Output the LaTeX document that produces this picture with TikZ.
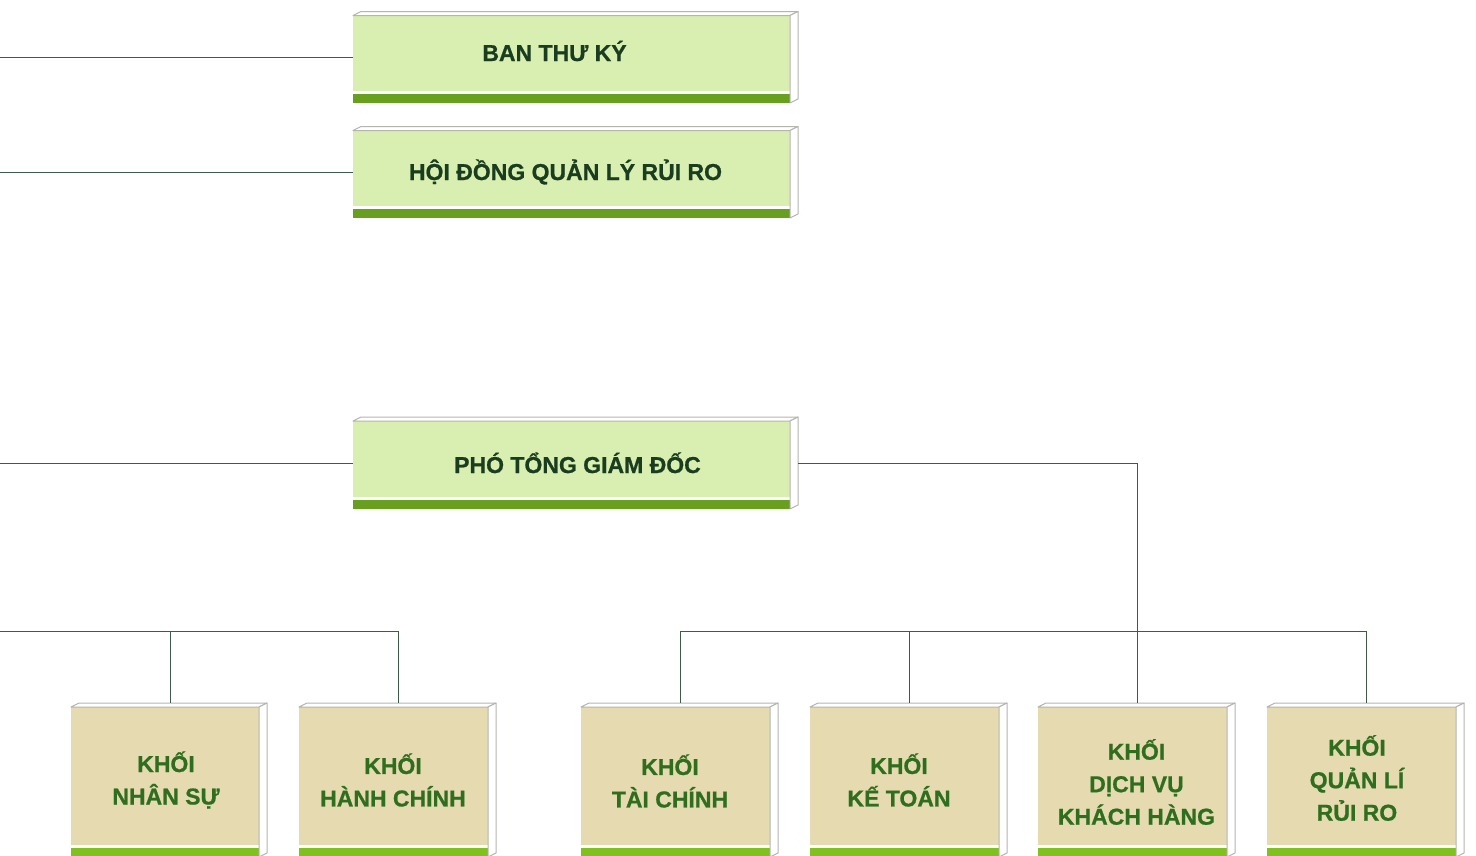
\documentclass[tikz,border=0pt]{standalone}
\usepackage{fontspec}
\setmainfont{Liberation Sans}[BoldFeatures={FakeBold=0.8}]

\definecolor{topfill}{HTML}{D9EFB2}
\definecolor{topbar}{HTML}{689F1E}
\definecolor{toptext}{HTML}{1B3D1F}
\definecolor{botfill}{HTML}{E6DAB0}
\definecolor{botbar}{HTML}{80C11F}
\definecolor{bottext}{HTML}{2F6E1F}
\definecolor{edgecol}{HTML}{B4B4B0}
\definecolor{linecol}{HTML}{3F5A4A}

% #1 name, #2 left x, #3 top y, #4 width, #5 height, #6 face colour, #7 bar colour
\newcommand\orgcube[7]{%
  \node[inner sep=0pt, outer sep=0pt, minimum width=#4pt, minimum height=#5pt,
        anchor=north west, fill=#6] (#1) at (#2,#3) {};
  \fill[white] ([yshift=9pt]#1.south west) rectangle ([yshift=12pt]#1.south east);
  \fill[#7] (#1.south west) rectangle ([yshift=9pt]#1.south east);
  \filldraw[edge] (#1.north west) -- ++(8,-4)
     -- ([shift={(8pt,4pt)}]#1.north east) -- (#1.north east) -- cycle;
  \filldraw[edge] (#1.north east) -- ++(8,-4)
     -- ([shift={(8pt,4pt)}]#1.south east) -- (#1.south east) -- cycle;
  \coordinate (#1t) at ([shift={(5pt,4pt)}]#1.north);
}

\begin{document}
\begin{tikzpicture}[x=1pt, y=-1pt,
  edge/.style={fill=white, draw=edgecol, line width=1pt, line join=round},
  conn/.style={draw=linecol, line width=1pt},
  toplabel/.style={anchor=base, text=toptext, inner sep=0pt,
    font=\fontsize{23}{32.5}\selectfont\bfseries},
  botlabel/.style={anchor=center, align=center, text=bottext, inner sep=0pt,
    font=\fontsize{23}{32.5}\selectfont\bfseries}]
\useasboundingbox (0,0) rectangle (1476,855);
\clip (0,0) rectangle (1476,855);

% upper boxes
\orgcube{b1}{353}{15.5}{437}{87.5}{topfill}{topbar}
\orgcube{b2}{353}{130.5}{437}{87.5}{topfill}{topbar}
\orgcube{b3}{353}{421}{437}{88}{topfill}{topbar}

% divisions
\orgcube{k1}{71}{707}{188}{150}{botfill}{botbar}
\orgcube{k2}{299}{707}{189}{150}{botfill}{botbar}
\orgcube{k3}{581}{707}{189}{150}{botfill}{botbar}
\orgcube{k4}{810}{707}{189}{150}{botfill}{botbar}
\orgcube{k5}{1038}{707}{189}{150}{botfill}{botbar}
\orgcube{k6}{1267}{707}{189}{150}{botfill}{botbar}

% labels
\node[toplabel] (t1) at (554.5,61) {BAN THƯ KÝ};
\node[toplabel] (t2) at (565.5,180) {HỘI ĐỒNG QUẢN LÝ RỦI RO};
\node[toplabel] (t3) at (577.5,473) {PHÓ TỔNG GIÁM ĐỐC};

\node[botlabel] (u1) at (166,780) {KHỐI\\NHÂN SỰ};
\node[botlabel] (u2) at (393,780) {KHỐI\\HÀNH CHÍNH};
\node[botlabel] (u3) at (670,781) {KHỐI\\TÀI CHÍNH};
\node[botlabel] (u4) at (899,780) {KHỐI\\KẾ TOÁN};
\node[botlabel] (u5) at (1136.5,782) {KHỐI\\DỊCH VỤ\\KHÁCH HÀNG};
\node[botlabel] (u6) at (1357,778) {KHỐI\\QUẢN LÍ\\RỦI RO};

% connectors
\coordinate (L1) at (0,57.5);
\coordinate (L2) at (0,172.5);
\coordinate (L3) at (0,463.5);
\coordinate (LB) at (0,631.5);
\coordinate (b3side) at ([xshift=8pt]b3.east);
\coordinate (J) at (k5t |- LB);

\draw[conn] (L1) -- (L1 -| b1.west);
\draw[conn] (L2) -- (L2 -| b2.west);
\draw[conn] (L3) -- (L3 -| b3.west);
\draw[conn] (b3side |- L3) -- (k5t |- L3) -- (k5t);
\draw[conn] (LB) -- (LB -| k2t) -- (k2t);
\draw[conn] (LB -| k1t) -- (k1t);
\draw[conn] (k3t) -- (k3t |- J) -- (k6t |- J) -- (k6t);
\draw[conn] (k4t |- J) -- (k4t);
\end{tikzpicture}
\end{document}
